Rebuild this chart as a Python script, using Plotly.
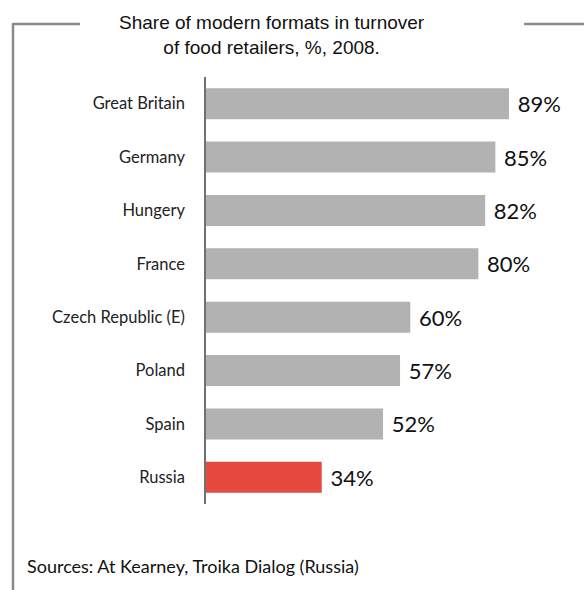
import plotly.graph_objects as go

countries = ["Great Britain", "Germany", "Hungery", "France", "Czech Republic (E)", "Poland", "Spain", "Russia"]
shares = [89, 85, 82, 80, 60, 57, 52, 34]
highlight = "Russia"

title_text = "Share of modern formats in turnover<br>of food retailers, %, 2008."
source_text = "Sources: At Kearney, Troika Dialog (Russia)"

W, H = 584, 590
L, R, T, B = 206, 4, 77, 86
pw = W - L - R
ph = H - T - B

def px_x(p):
    return (p - L) / pw

def px_y(p):
    return (H - B - p) / ph

bar_colors = ["#e64a3e" if c == highlight else "#b2b2b2" for c in countries]

fig = go.Figure(go.Bar(
    x=shares,
    y=countries,
    orientation="h",
    marker=dict(color=bar_colors, line=dict(width=0)),
    text=[f" {v}%" for v in shares],
    textposition="outside",
    textfont=dict(family="Lato", size=22, color="#111"),
    cliponaxis=False,
    hoverinfo="skip",
))

frame = dict(color="#8a8a8a", width=2.5)
fig.add_shape(type="line", xref="paper", yref="paper",
              x0=px_x(13), x1=px_x(80), y0=px_y(24), y1=px_y(24), line=frame)
fig.add_shape(type="line", xref="paper", yref="paper",
              x0=px_x(524), x1=px_x(590), y0=px_y(24), y1=px_y(24), line=frame)
fig.add_shape(type="line", xref="paper", yref="paper",
              x0=px_x(13), x1=px_x(13), y0=px_y(23), y1=px_y(595), line=frame)

fig.add_annotation(text=title_text, xref="paper", yref="paper",
                   x=px_x(272), y=px_y(10), xanchor="center", yanchor="top",
                   showarrow=False, align="center",
                   font=dict(family="Liberation Sans", size=19, color="#111"))
fig.add_annotation(text=source_text, xref="paper", yref="paper",
                   x=px_x(25), y=px_y(566), xanchor="left", yanchor="middle",
                   showarrow=False,
                   font=dict(family="Lato", size=18, color="#111"))

fig.update_layout(
    width=W, height=H,
    margin=dict(l=L, r=R, t=T, b=B, pad=0),
    plot_bgcolor="white", paper_bgcolor="white",
    bargap=0.42,
    showlegend=False,
    xaxis=dict(range=[0, pw / (303 / 89)], visible=False, showgrid=False, zeroline=False),
    yaxis=dict(categoryorder="array", categoryarray=countries, autorange="reversed",
               showline=True, linecolor="#707070", linewidth=1.5,
               showgrid=False, zeroline=False, ticks="", ticklabelstandoff=16,
               tickfont=dict(family="Lato", size=16.5, color="#222")),
)

fig.write_html("out.html")
